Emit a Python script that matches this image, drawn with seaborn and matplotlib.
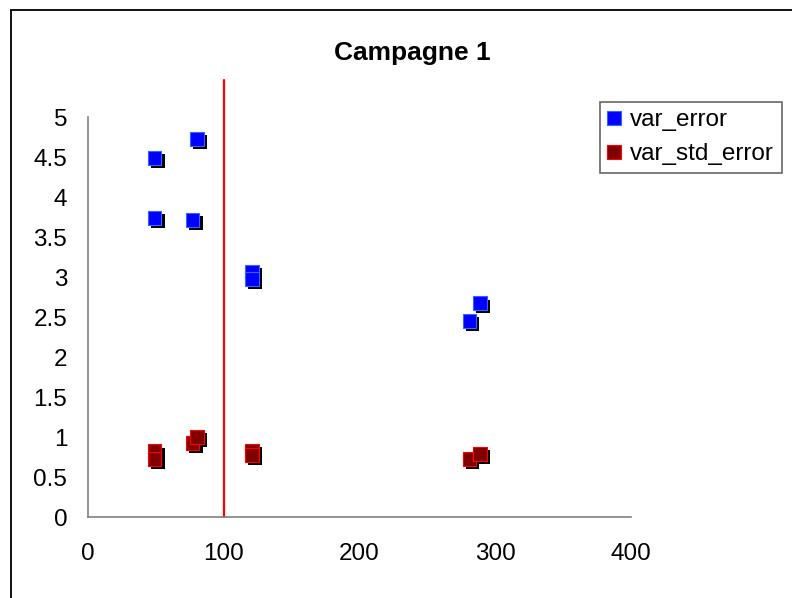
import matplotlib
matplotlib.use("Agg")
import matplotlib.pyplot as plt
import matplotlib.patheffects as pe
import seaborn as sns
import pandas as pd
from matplotlib.lines import Line2D

x_vals = [49, 49, 77, 80, 121, 121, 281, 289]
var_error = [4.49, 3.74, 3.71, 4.73, 3.06, 2.98, 2.45, 2.67]
var_std_error = [0.82, 0.73, 0.92, 1.00, 0.83, 0.78, 0.73, 0.79]
threshold_x = 100
title = "Campagne 1"
series_names = ["var_error", "var_std_error"]

sns.set_theme(style="white")
plt.rcParams["font.family"] = ["Liberation Sans", "DejaVu Sans"]
plt.rcParams["text.color"] = "black"

fig = plt.figure(figsize=(7.92, 5.98), dpi=100)
ax = fig.add_axes([88/792, (598-517)/598, (631-88)/792, 400/598])

df = pd.DataFrame({
    "x": x_vals * 2,
    "y": var_error + var_std_error,
    "series": [series_names[0]] * len(x_vals) + [series_names[1]] * len(x_vals),
})

shadow = [pe.SimplePatchShadow(offset=(2.2, -2.2), shadow_rgbFace="black", alpha=1.0), pe.Normal()]

sns.scatterplot(data=df[df.series == series_names[0]], x="x", y="y", ax=ax, marker="s",
                s=100, color="#0000FF", edgecolor="#3366FF", linewidth=0.8, zorder=3,
                legend=False, path_effects=shadow)
sns.scatterplot(data=df[df.series == series_names[1]], x="x", y="y", ax=ax, marker="s",
                s=100, color="#800000", edgecolor="#FF0000", linewidth=0.8, zorder=3,
                legend=False, path_effects=shadow)

ax.plot([threshold_x, threshold_x], [0, 5.46], color="#FF0000", lw=1.6, clip_on=False, zorder=2)

ax.set_xlim(0, 400)
ax.set_ylim(0, 5)
ax.set_xticks([0, 100, 200, 300, 400])
ax.set_yticks([0, 0.5, 1, 1.5, 2, 2.5, 3, 3.5, 4, 4.5, 5])
ax.set_yticklabels(["0", "0.5", "1", "1.5", "2", "2.5", "3", "3.5", "4", "4.5", "5"])
ax.set_xlabel("")
ax.set_ylabel("")
for s in ["top", "right"]:
    ax.spines[s].set_visible(False)
for s in ["left", "bottom"]:
    ax.spines[s].set_color("#808080")
    ax.spines[s].set_linewidth(1.2)
ax.tick_params(axis="both", which="major", direction="out", length=6, width=1.2,
               color="#808080", labelsize=17.5, labelcolor="black")
ax.tick_params(axis="y", pad=9)
ax.tick_params(axis="x", pad=13)
ax.set_facecolor("white")

fig.text(412/792, 1 - 53/598, title, ha="center", va="center", fontsize=19,
         fontweight="bold", color="black")

handles = [
    Line2D([], [], marker="s", linestyle="none", markersize=10, markerfacecolor="#0000FF",
           markeredgecolor="#3366FF", markeredgewidth=0.8),
    Line2D([], [], marker="s", linestyle="none", markersize=10, markerfacecolor="#800000",
           markeredgecolor="#FF0000", markeredgewidth=0.8),
]
leg = fig.legend(handles, series_names, loc="upper left", bbox_to_anchor=(600/792, 1 - 102/598),
                 frameon=True, fancybox=False, fontsize=17.5, handlelength=0.55,
                 handletextpad=0.4, borderpad=0.3, labelspacing=0.5, borderaxespad=0)
leg.get_frame().set_edgecolor("#404040")
leg.get_frame().set_linewidth(1.2)
for t in leg.get_texts():
    t.set_color("black")

# chart area border (top and left edges visible)
fig.add_artist(Line2D([11/792, 11/792], [0, 1 - 10/598], color="black", lw=1.3,
                      transform=fig.transFigure))
fig.add_artist(Line2D([11/792, 1], [1 - 10/598, 1 - 10/598], color="black", lw=1.3,
                      transform=fig.transFigure))

fig.savefig("out.png", dpi=100)
